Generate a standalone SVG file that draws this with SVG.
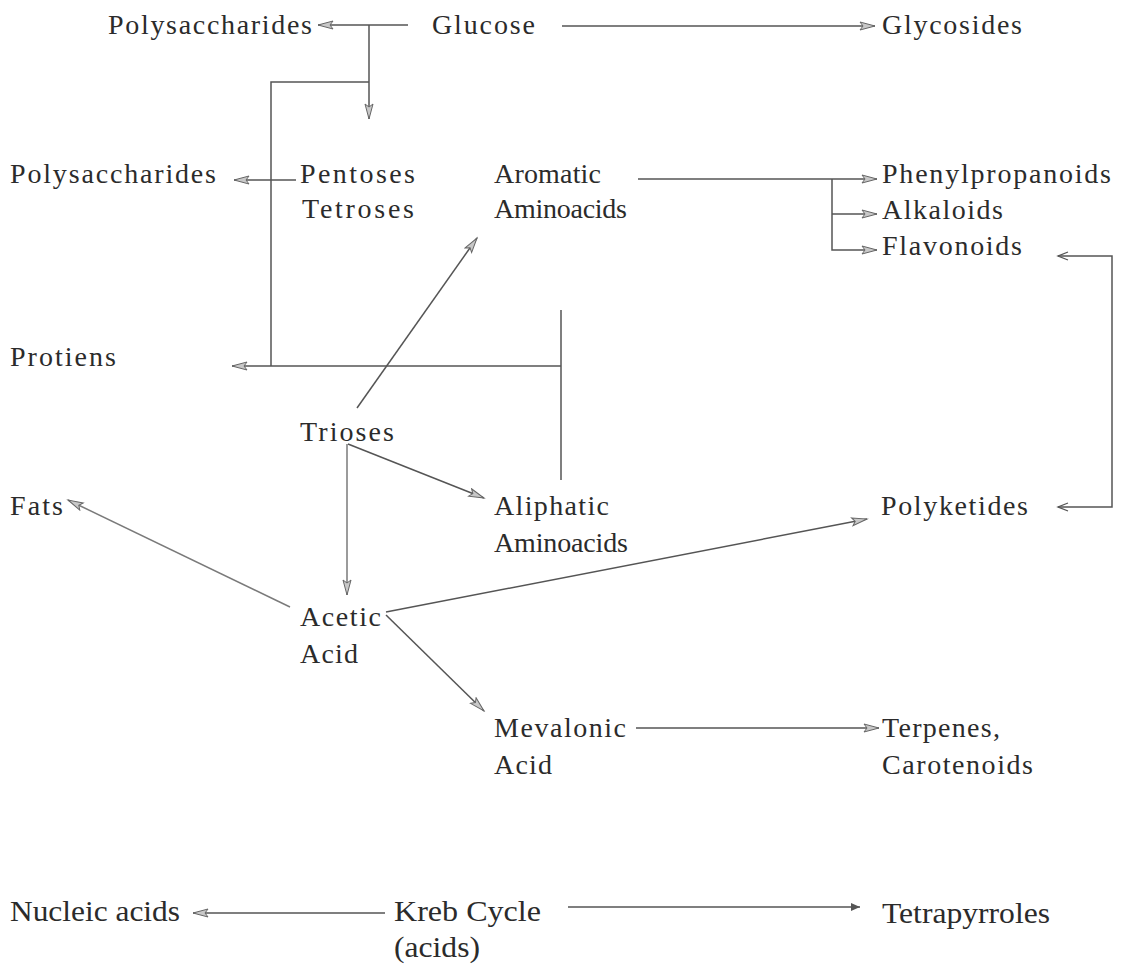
<svg xmlns="http://www.w3.org/2000/svg" width="1122" height="964" viewBox="0 0 1122 964">
<style>
text{font-family:"Liberation Serif","Times New Roman",serif;font-size:28px;fill:#2b2b2b}
.c{font-size:29px}
.ln{fill:none;stroke:#555;stroke-width:1.5}
.lt{fill:none;stroke:#7a7a7a;stroke-width:1.5}
</style>
<defs>
<marker id="ah" markerUnits="userSpaceOnUse" markerWidth="18" markerHeight="12" refX="16" refY="5" orient="auto">
<path d="M1,1 L16,5 L1,9 L4,5 z" fill="#c8c8c8" stroke="#666" stroke-width="1"/>
</marker>
<marker id="as" markerUnits="userSpaceOnUse" markerWidth="14" markerHeight="12" refX="11" refY="5" orient="auto-start-reverse">
<path d="M1,1 L11,5 L1,9" fill="none" stroke="#555" stroke-width="1.3"/>
</marker>
<marker id="af" markerUnits="userSpaceOnUse" markerWidth="12" markerHeight="10" refX="9" refY="4" orient="auto">
<path d="M0,0 L9,4 L0,8 z" fill="#555"/>
</marker>
</defs>
<g id="connectors">
<line class="ln" x1="408" y1="25" x2="318" y2="25" marker-end="url(#ah)"/>
<line class="ln" x1="562" y1="26" x2="875" y2="26" marker-end="url(#ah)"/>
<line class="ln" x1="369" y1="25" x2="369" y2="119" marker-end="url(#ah)"/>
<polyline class="ln" points="369,82 271,82 271,366"/>
<line class="ln" x1="296" y1="180" x2="234" y2="180" marker-end="url(#ah)"/>
<line class="ln" x1="561" y1="366" x2="232" y2="366" marker-end="url(#ah)"/>
<line class="ln" x1="561" y1="310" x2="561" y2="480"/>
<line class="ln" x1="638" y1="179" x2="877" y2="179" marker-end="url(#ah)"/>
<polyline class="ln" points="832,179 832,250 877,250" marker-end="url(#ah)"/>
<line class="ln" x1="832" y1="214" x2="877" y2="214" marker-end="url(#ah)"/>
<line class="ln" x1="357" y1="408" x2="477" y2="238" marker-end="url(#ah)"/>
<line class="ln" x1="348" y1="444" x2="484" y2="498" marker-end="url(#ah)"/>
<line class="lt" x1="347" y1="444" x2="347" y2="595" marker-end="url(#ah)"/>
<line class="lt" x1="290" y1="607" x2="68" y2="500" marker-end="url(#ah)"/>
<line class="ln" x1="386" y1="612" x2="867" y2="519" marker-end="url(#ah)"/>
<line class="ln" x1="386" y1="615" x2="484" y2="711" marker-end="url(#ah)"/>
<line class="ln" x1="636" y1="728" x2="879" y2="728" marker-end="url(#ah)"/>
<polyline class="ln" points="1058,256 1112,256 1112,507 1058,507" marker-start="url(#as)" marker-end="url(#as)"/>
<line class="ln" x1="385" y1="913" x2="193" y2="913" marker-end="url(#ah)"/>
<line class="ln" x1="568" y1="907" x2="860" y2="907" marker-end="url(#af)"/>
</g>
<g id="n-polysaccharides1"><text x="108" y="34" textLength="204" lengthAdjust="spacing">Polysaccharides</text></g>
<g id="n-glucose"><text x="432" y="34" textLength="103" lengthAdjust="spacing">Glucose</text></g>
<g id="n-glycosides"><text x="882" y="34" textLength="140" lengthAdjust="spacing">Glycosides</text></g>
<g id="n-polysaccharides2"><text x="10" y="183" textLength="206" lengthAdjust="spacing">Polysaccharides</text></g>
<g id="n-pentoses"><text x="300" y="183" textLength="115" lengthAdjust="spacing">Pentoses</text><text x="302" y="218" textLength="112" lengthAdjust="spacing">Tetroses</text></g>
<g id="n-aromatic"><text x="494" y="183" textLength="107" lengthAdjust="spacing">Aromatic</text><text x="494" y="218" textLength="133" lengthAdjust="spacing">Aminoacids</text></g>
<g id="n-phenylpropanoids"><text x="882" y="183" textLength="229" lengthAdjust="spacing">Phenylpropanoids</text></g>
<g id="n-alkaloids"><text x="882" y="219" textLength="121" lengthAdjust="spacing">Alkaloids</text></g>
<g id="n-flavonoids"><text x="882" y="255" textLength="140" lengthAdjust="spacing">Flavonoids</text></g>
<g id="n-protiens"><text x="10" y="366" textLength="106" lengthAdjust="spacing">Protiens</text></g>
<g id="n-trioses"><text x="300" y="441" textLength="94" lengthAdjust="spacing">Trioses</text></g>
<g id="n-fats"><text x="10" y="515" textLength="53" lengthAdjust="spacing">Fats</text></g>
<g id="n-aliphatic"><text x="494" y="515" textLength="115" lengthAdjust="spacing">Aliphatic</text><text x="494" y="552" textLength="134" lengthAdjust="spacing">Aminoacids</text></g>
<g id="n-polyketides"><text x="881" y="515" textLength="147" lengthAdjust="spacing">Polyketides</text></g>
<g id="n-acetic"><text x="300" y="626" textLength="81" lengthAdjust="spacing">Acetic</text><text x="300" y="663" textLength="58" lengthAdjust="spacing">Acid</text></g>
<g id="n-mevalonic"><text x="494" y="737" textLength="132" lengthAdjust="spacing">Mevalonic</text><text x="494" y="774" textLength="58" lengthAdjust="spacing">Acid</text></g>
<g id="n-terpenes"><text x="882" y="737" textLength="118" lengthAdjust="spacing">Terpenes,</text><text x="882" y="774" textLength="151" lengthAdjust="spacing">Carotenoids</text></g>
<g id="n-nucleic"><text class="c" x="10" y="921" textLength="170" lengthAdjust="spacingAndGlyphs">Nucleic acids</text></g>
<g id="n-kreb"><text class="c" x="394" y="921" textLength="147" lengthAdjust="spacingAndGlyphs">Kreb Cycle</text><text class="c" x="394" y="957" textLength="86" lengthAdjust="spacingAndGlyphs">(acids)</text></g>
<g id="n-tetrapyrroles"><text class="c" x="882" y="923" textLength="168" lengthAdjust="spacingAndGlyphs">Tetrapyrroles</text></g>
</svg>
